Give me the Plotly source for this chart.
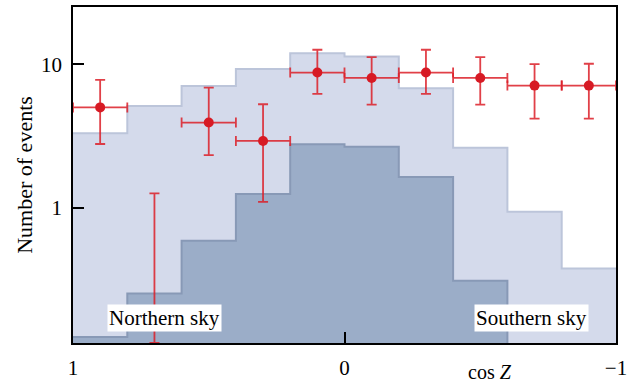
import plotly.graph_objects as go
import math

# ---- data ----
bin_edges = [1.0, 0.8, 0.6, 0.4, 0.2, 0.0, -0.2, -0.4, -0.6, -0.8, -1.0]
bin_centers = [0.9, 0.7, 0.5, 0.3, 0.1, -0.1, -0.3, -0.5, -0.7, -0.9]
total_expect = [3.30, 5.12, 7.06, 9.27, 11.9, 11.3, 6.8, 2.62, 0.94, 0.378]
background_expect = [0.126, 0.253, 0.589, 1.246, 2.77, 2.66, 1.64, 0.31, 0.01, 0.01]
observed = [5.0, 0.0, 3.92, 2.92, 8.74, 8.02, 8.74, 8.02, 7.09, 7.09]
err_upper = [7.77, 1.26, 6.87, 5.26, 12.6, 11.2, 12.6, 11.2, 10.0, 10.07]
err_lower = [2.78, 0.0, 2.33, 1.10, 6.21, 5.23, 6.21, 5.23, 4.18, 4.18]
x_tickvals = [1, 0, -1]
x_ticktext = ["1", "0", "\u22121"]
y_tickvals = [1, 10]
y_ticktext = ["1", "10"]
y_min, y_max = 0.1145, 25.0

FONT = "Liberation Serif, Times New Roman, serif"
RED = "#d71a24"
RED_ERR = "rgba(220,30,40,0.85)"

W, H = 634, 385
ML, MR, MT, MB = 73, 18, 7, 42

fig = go.Figure()

def step(vals):
    return list(vals) + [vals[-1]]

fig.add_trace(go.Scatter(
    x=bin_edges, y=step(total_expect), mode="lines", line_shape="hv",
    line=dict(color="#bcc5da", width=2), fill="tozeroy", fillcolor="#d4daeb",
    hoverinfo="skip", showlegend=False))
fig.add_trace(go.Scatter(
    x=bin_edges, y=step(background_expect), mode="lines", line_shape="hv",
    line=dict(color="#8899b6", width=2), fill="tozeroy", fillcolor="#9badc8",
    hoverinfo="skip", showlegend=False))

px, py, ep, em = [], [], [], []
zx, zy = [], []
for c, o, hi, lo in zip(bin_centers, observed, err_upper, err_lower):
    if o > 0:
        px.append(c); py.append(o); ep.append(hi - o); em.append(o - lo)
    else:
        zx.append(c); zy.append(hi - y_min)

fig.add_trace(go.Scatter(
    x=px, y=py, mode="markers",
    marker=dict(color=RED, size=10),
    error_y=dict(type="data", symmetric=False, array=ep, arrayminus=em,
                 color=RED_ERR, thickness=1.8, width=5),
    error_x=dict(type="constant", value=0.1, color=RED_ERR, thickness=1.8, width=5),
    showlegend=False))
fig.add_trace(go.Scatter(
    x=zx, y=[y_min] * len(zx), mode="markers",
    marker=dict(color=RED, size=1, opacity=0),
    error_y=dict(type="data", symmetric=False, array=zy, arrayminus=[0] * len(zx),
                 color=RED_ERR, thickness=1.8, width=5),
    showlegend=False, cliponaxis=False))

pw = W - ML - MR
ph = H - MT - MB

fig.add_annotation(x=0.662, y=(H - MB - 317.5) / ph, xref="x", yref="paper",
                   xanchor="center", yanchor="middle", text="Northern sky",
                   showarrow=False, bgcolor="white", borderpad=1,
                   font=dict(family=FONT, size=21, color="black"))
fig.add_annotation(x=-0.688, y=(H - MB - 318) / ph, xref="x", yref="paper",
                   xanchor="center", yanchor="middle", text="Southern sky",
                   showarrow=False, bgcolor="white", borderpad=1,
                   font=dict(family=FONT, size=21, color="black"))
fig.add_annotation(x=(490 - ML) / pw, y=-(385 - (H - MB)) / ph,
                   xref="paper", yref="paper", xanchor="center", yanchor="bottom",
                   text="cos <i>Z</i>", showarrow=False,
                   font=dict(family=FONT, size=20, color="black"))

fig.update_xaxes(range=[1, -1], tickvals=x_tickvals, ticktext=x_ticktext,
                 ticks="inside", ticklen=11, tickwidth=1.5, tickcolor="black",
                 showline=True, linecolor="black", linewidth=1.5, mirror=True,
                 showgrid=False, zeroline=False, automargin=False,
                 ticklabelstandoff=5,
                 tickfont=dict(family=FONT, size=21, color="black"))
fig.update_yaxes(type="log", range=[math.log10(y_min), math.log10(y_max)],
                 tickvals=y_tickvals, ticktext=y_ticktext,
                 ticks="inside", ticklen=11, tickwidth=1.5, tickcolor="black",
                 showline=True, linecolor="black", linewidth=1.5, mirror=True,
                 showgrid=False, zeroline=False, automargin=False,
                 ticklabelstandoff=5,
                 tickfont=dict(family=FONT, size=21, color="black"),
                 title=dict(text="Number of events", standoff=2,
                            font=dict(family=FONT, size=22, color="black")))

fig.update_layout(width=W, height=H, plot_bgcolor="white", paper_bgcolor="white",
                  margin=dict(l=ML, r=MR, t=MT, b=MB), showlegend=False)

fig.write_html("out.html", config={"displayModeBar": False},
               post_script="document.body.style.margin='0px';document.body.style.overflow='hidden';")
